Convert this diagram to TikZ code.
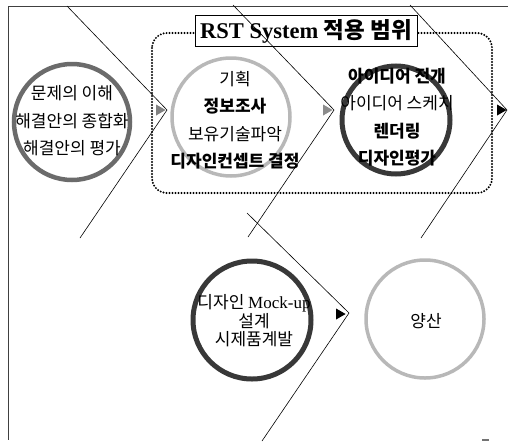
\documentclass[tikz,border=0pt]{standalone}
\usepackage{fontspec}
\setmainfont{Liberation Serif}
\newfontfamily\kr{Noto Sans CJK KR}
\usetikzlibrary{shapes.geometric}
\begin{document}
\begin{tikzpicture}[x=1pt,y=-1pt,
  chev/.style={line width=0.6pt, black},
  framel/.style={line width=0.6pt, black!75},
  zone/.style={line width=2.2pt, dash pattern=on 0pt off 3pt, line cap=round, rounded corners=15pt},
  titlebox/.style={draw=black, line width=0.7pt, fill=white},
  ringdark/.style={circle, draw=black!78, line width=5pt, inner sep=0pt},
  ringmid/.style={circle, draw=black!58, line width=4.5pt, inner sep=0pt},
  ringlight/.style={circle, draw=black!28, line width=3.5pt, inner sep=0pt},
  txt/.style={font=\kr\fontsize{17}{27.5}\selectfont, align=center, inner sep=0pt},
  txtb/.style={font=\kr\fontsize{17}{18.5}\selectfont, align=center, inner sep=0pt},
  tip/.style={isosceles triangle, isosceles triangle apex angle=60, fill, minimum width=11pt, minimum height=9pt, inner sep=0pt, anchor=apex}
]
\useasboundingbox (0,0) rectangle (508,442);
% frame
\coordinate (fTL) at (8,6);
\coordinate (fTR) at (508,6);
\coordinate (fBL) at (8,440);
\draw[framel] (fTR) -- (fTL) -- (fBL);
\draw[black!55, line width=1.5pt] (482,440) -- (489,440);
% dotted scope
\draw[zone] (152,33) rectangle (492,193);
\node[titlebox, minimum width=222pt, minimum height=31pt, inner sep=0pt] (title) at (306,30.5) {};
\node[font=\fontsize{22.5}{24}\selectfont\bfseries, inner sep=0pt] (titletxt) at (306,31) {RST System {\kr 적용 범위}};
% rings
\node[ringmid, minimum size=116pt] (c1) at (72,122) {};
\node[ringlight, minimum size=118pt] (c2) at (231,117) {};
\node[ringdark, minimum size=108pt] (c3) at (396,120) {};
\node[ringdark, minimum size=118pt] (c4) at (252,320) {};
\node[ringlight, minimum size=118pt] (c5) at (425,319) {};
% texts
\node[txt] (t1) at (72,121) {문제의 이해\\해결안의 종합화\\해결안의 평가};
\node[txt] (t2) at (235,120) {기획\\\textbf{정보조사}\\보유기술파악\\\textbf{디자인컨셉트 결정}};
\node[txt] (t3) at (397,117) {\textbf{아이디어 전개}\\아이디어 스케치\\\textbf{렌더링}\\\textbf{디자인평가}};
\node[txtb] (t4) at (254,321) {디자인 {\rmfamily Mock-up}\\설계\\시제품계발};
\node[txt] (t5) at (426,321) {양산};
% chevrons
\coordinate (a1) at (67,6);   \coordinate (p1) at (167,110); \coordinate (b1) at (80,238);
\coordinate (a2) at (233,5);  \coordinate (p2) at (334,110); \coordinate (b2) at (248,237);
\coordinate (a3) at (410,5);  \coordinate (p3) at (507,110); \coordinate (b3) at (421,238);
\coordinate (a4) at (247,213);\coordinate (p4) at (349,313); \coordinate (b4) at (262,441);
\draw[chev] (a1) -- (p1) -- (b1);
\draw[chev] (a2) -- (p2) -- (b2);
\draw[chev] (a3) -- (p3) -- (b3);
\draw[chev] (a4) -- (p4) -- (b4);
% arrow tips
\node[tip, fill=black!50] (h1) at (166,110) {};
\node[tip, fill=black!45] (h2) at (333,110) {};
\node[tip, fill=black] (h3) at (507,110) {};
\node[tip, fill=black] (h4) at (346,314) {};
\end{tikzpicture}
\end{document}
